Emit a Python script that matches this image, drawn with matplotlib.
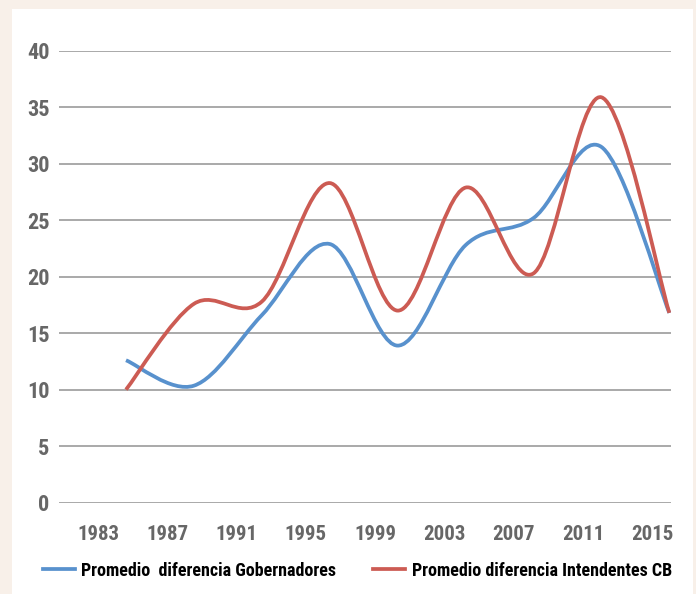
import matplotlib

matplotlib.use('Agg')

import matplotlib.pyplot as plt
import numpy as np
from matplotlib.path import Path
from matplotlib.patches import PathPatch, Rectangle
from matplotlib.lines import Line2D

# data
years = [1983, 1987, 1991, 1995, 1999, 2003, 2007, 2011, 2015]
gobernadores = [12.6, 10.35, 16.6, 22.9, 13.9, 22.8, 25.2, 31.5, 16.8]
intendentes = [10.0, 17.6, 17.8, 28.3, 17.0, 27.9, 20.3, 35.9, 16.8]
y_ticks = [0, 5, 10, 15, 20, 25, 30, 35, 40]
label_gob = 'Promedio  diferencia Gobernadores'
label_int = 'Promedio diferencia Intendentes CB'

FONT = ['Roboto Condensed', 'Roboto', 'DejaVu Sans']
BLUE = '#5891CD'
RED = '#CC5B53'
BEIGE = '#F8F0E9'


def smooth_path(xs, ys):
    """Catmull-Rom style bezier through the points (like excel's smoothed line)"""
    pts = np.column_stack([xs, ys]).astype(float)
    n = len(pts)
    verts = [pts[0]]
    codes = [Path.MOVETO]
    for i in range(n - 1):
        p0 = pts[i - 1] if i > 0 else pts[i]
        p1 = pts[i]
        p2 = pts[i + 1]
        p3 = pts[i + 2] if i + 2 < n else pts[i + 1]
        c1 = p1 + (p2 - p0) / 6.0
        c2 = p2 - (p3 - p1) / 6.0
        verts += [c1, c2, p2]
        codes += [Path.CURVE4] * 3
    return Path(verts, codes)


fig = plt.figure(figsize=(6.96, 5.94), dpi=100, facecolor=BEIGE)
fig.patches.append(Rectangle((12 / 696, 0), 681 / 696, 585 / 594, transform=fig.transFigure,
                             facecolor='white', edgecolor='none', zorder=-5))

ax = fig.add_axes([59.3 / 696, 1 - 502.5 / 594, 611.4 / 696, 451.5 / 594])
ax.set_facecolor('none')
ax.set_zorder(2)

xs = np.arange(len(years))
for vals, color in [(gobernadores, BLUE), (intendentes, RED)]:
    patch = PathPatch(smooth_path(xs, vals), facecolor='none', edgecolor=color, lw=2.7,
                      capstyle='butt', joinstyle='round', zorder=3)
    ax.add_patch(patch)

ax.set_xlim(-0.982, 8.02)
ax.set_ylim(0, 40)
ax.set_yticks(y_ticks)
ax.set_yticklabels([str(v) for v in y_ticks])
# the category labels sit a bit left of the data points in the original
ax.set_xticks(-0.41 + 1.02 * xs)
ax.set_xticklabels([str(y) for y in years])

for s in ax.spines.values():
    s.set_visible(False)
ax.yaxis.grid(True, color='#A3A3A3', lw=1.3)
ax.set_axisbelow(True)
ax.tick_params(axis='both', length=0, labelcolor='#676767')
ax.tick_params(axis='y', pad=7)
ax.tick_params(axis='x', pad=16)
for lab in ax.get_xticklabels():
    lab.set_family(FONT)
    lab.set_fontweight('bold')
    lab.set_fontsize(15)
for lab in ax.get_yticklabels():
    lab.set_family(FONT)
    lab.set_fontweight('bold')
    lab.set_fontsize(16)

handles = [Line2D([], [], color=BLUE, lw=2.7), Line2D([], [], color=RED, lw=2.7)]
fig.legend(handles, [label_gob, label_int], loc='center left', ncol=2,
           bbox_to_anchor=(43 / 696, 1 - 570.7 / 594), frameon=False, borderpad=0,
           borderaxespad=0, handlelength=1.75, handletextpad=0.38, columnspacing=2.05,
           prop={'family': FONT, 'weight': 'bold', 'size': 13})

fig.savefig('out.png', dpi=100, facecolor=BEIGE)
